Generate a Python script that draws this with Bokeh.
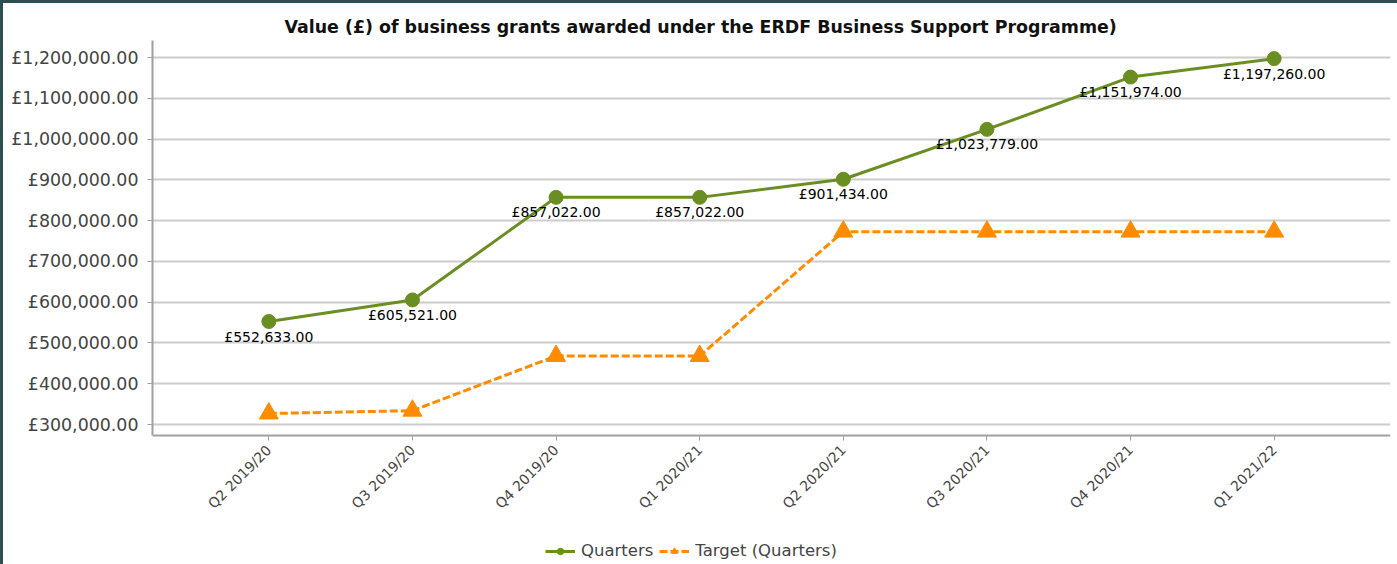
from bokeh.plotting import figure
from bokeh.models import (Range1d, FixedTicker, CustomJSTickFormatter, ColumnDataSource,
                          LabelSet, Legend, LegendItem)
from bokeh.core.properties import value
from bokeh.embed import file_html
from bokeh.resources import INLINE
import math

categories = ["Q2 2019/20", "Q3 2019/20", "Q4 2019/20", "Q1 2020/21",
              "Q2 2020/21", "Q3 2020/21", "Q4 2020/21", "Q1 2021/22"]
quarters = [552633.00, 605521.00, 857022.00, 857022.00, 901434.00,
            1023779.00, 1151974.00, 1197260.00]
target = [327000, 334000, 468000, 468000, 773000, 773000, 773000, 773000]
y_ticks = [300000, 400000, 500000, 600000, 700000, 800000, 900000,
           1000000, 1100000, 1200000]

GREEN = "#6b8e23"
ORANGE = "#ff8c00"
FONT = "DejaVu Sans"
Y_AXIS_BOTTOM = 273000
Y_TOP = 1241700

xs = list(range(len(categories)))
src = ColumnDataSource(dict(
    x=xs, q=quarters, t=target,
    lab=["£{:,.2f}".format(v) for v in quarters],
))

p = figure(frame_width=1238, frame_height=524, output_backend="svg", toolbar_location=None,
           x_range=Range1d(-0.81, 7.81), y_range=Range1d(-43250, Y_TOP),
           min_border_left=149, min_border_right=7, min_border_top=37,
           min_border_bottom=10,
           styles={"border-left": "3px solid #2f4f4f", "border-top": "3px solid #2f4f4f"})

p.title.text = "Value (£) of business grants awarded under the ERDF Business Support Programme)"
p.title.text_font = FONT
p.title.text_font_size = "17.4px"
p.title.text_font_style = "bold"
p.title.text_color = "#111111"
p.title.align = "left"
p.title.offset = 132
p.title.standoff = 8

p.outline_line_color = None
p.background_fill_color = "white"
p.border_fill_color = "white"

# axes
p.xaxis.fixed_location = Y_AXIS_BOTTOM
p.xaxis.ticker = FixedTicker(ticks=xs)
p.xaxis.major_label_overrides = {i: c for i, c in enumerate(categories)}
p.xaxis.major_label_orientation = math.pi / 4
p.xaxis.major_label_text_font = FONT
p.xaxis.major_label_text_font_size = "14px"
p.xaxis.major_label_text_color = "#444444"
p.xaxis.major_label_standoff = 7
p.xaxis.axis_line_color = "#a0a0a0"
p.xaxis.axis_line_width = 2
p.xaxis.major_tick_line_color = "#a0a0a0"
p.xaxis.major_tick_out = 5
p.xaxis.major_tick_in = 0
p.xaxis.minor_tick_line_color = None

p.yaxis.bounds = (Y_AXIS_BOTTOM, Y_TOP)
p.yaxis.ticker = FixedTicker(ticks=y_ticks)
p.yaxis.formatter = CustomJSTickFormatter(code="""
    return '£' + tick.toLocaleString('en-GB', {minimumFractionDigits: 2, maximumFractionDigits: 2});
""")
p.yaxis.major_label_text_font = FONT
p.yaxis.major_label_text_font_size = "17.4px"
p.yaxis.major_label_text_color = "#444444"
p.yaxis.major_label_standoff = 9
p.yaxis.axis_line_color = "#a0a0a0"
p.yaxis.axis_line_width = 2
p.yaxis.major_tick_line_color = "#a0a0a0"
p.yaxis.major_tick_out = 5
p.yaxis.major_tick_in = 0
p.yaxis.minor_tick_line_color = None

p.xgrid.grid_line_color = None
p.ygrid.grid_line_color = "#cccccc"
p.ygrid.grid_line_width = 2

# series
l1 = p.line("x", "q", source=src, line_color=GREEN, line_width=3)
m1 = p.scatter("x", "q", source=src, marker="circle", size=14,
               fill_color=GREEN, line_color=GREEN)
l2 = p.line("x", "t", source=src, line_color=ORANGE, line_width=3, line_dash="8 3")
m2 = p.scatter("x", "t", source=src, marker="triangle", size=19,
               fill_color=ORANGE, line_color=ORANGE)

labels = LabelSet(x="x", y="q", text="lab", source=src, text_align="center",
                  text_baseline="middle", y_offset=-15, text_font=value(FONT),
                  text_font_size="14px", text_color="#000000")
p.add_layout(labels)

legend = Legend(items=[LegendItem(label="Quarters", renderers=[l1, m1]),
                       LegendItem(label="Target (Quarters)", renderers=[l2, m2])],
                orientation="horizontal", location="bottom_left",
                title=" ", title_location="left", title_text_font_size="1px",
                title_standoff=388,
                label_text_font=FONT, label_text_font_size="16.5px",
                label_text_color="#444444", glyph_width=30, glyph_height=16,
                border_line_color=None, background_fill_alpha=0,
                spacing=6, padding=0, margin=4, label_standoff=6)
p.add_layout(legend)

open("out.html", "w").write(file_html(p, INLINE))
